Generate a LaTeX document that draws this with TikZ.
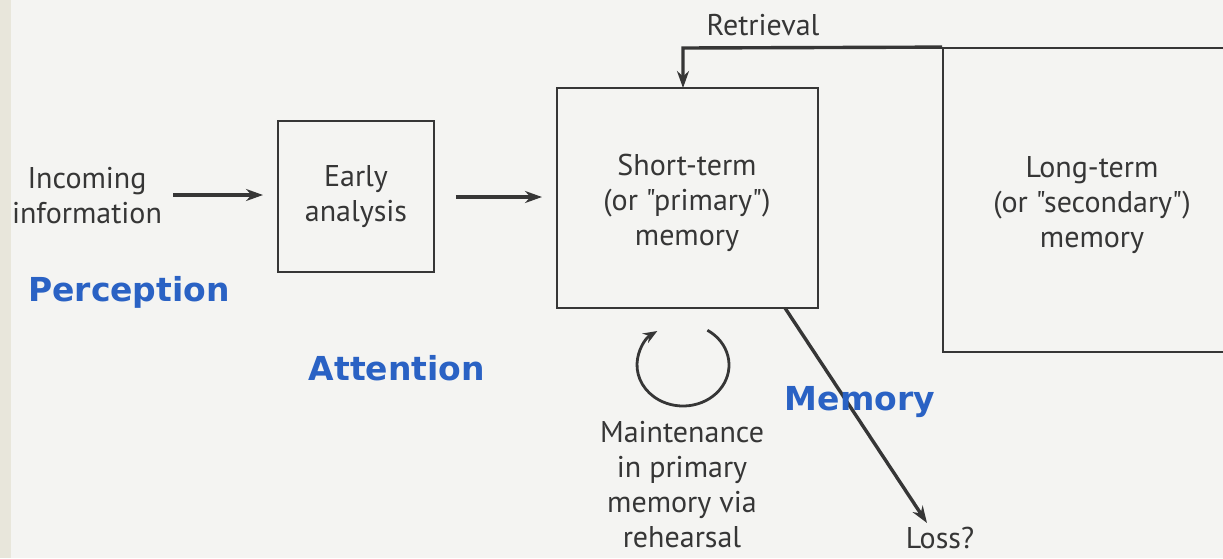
\documentclass[tikz,border=0pt]{standalone}
\usepackage{fontspec}
\setmainfont{PT Sans}[Ligatures=TeXOff]
\newfontfamily\labelfont{DejaVu Sans}
\usetikzlibrary{arrows.meta}
\definecolor{bg}{HTML}{F4F4F2}
\definecolor{strip}{HTML}{E8E6DB}
\definecolor{ink}{HTML}{363636}
\definecolor{tagblue}{HTML}{2A62C4}
\tikzset{
  txt/.style={text=ink, font=\fontsize{30}{35}\selectfont, align=center, inner sep=0pt},
  box/.style={draw=ink, line width=1.8pt, inner sep=0pt},
  arr/.style={draw=ink, line width=3.4pt, -{Stealth[length=17pt,width=12pt]}},
  tag/.style={text=tagblue, font=\labelfont\bfseries\fontsize{33}{35}\selectfont, inner sep=0pt}
}
\begin{document}
\begin{tikzpicture}[x=1pt,y=-1pt]
\useasboundingbox (0,0) rectangle (1223,558);
\fill[bg] (0,0) rectangle (1223,558);
\fill[strip] (0,0) rectangle (11,558);
\clip (0,0) rectangle (1223,558);

\node[txt] (inc) at (87,196) {Incoming\\information};
\node[box, minimum width=156pt, minimum height=151pt] (early) at (356,196.5) {};
\node[txt] at (early.center) {Early\\analysis};
\node[box, minimum width=261pt, minimum height=220pt] (stm) at (687.5,198) {};
\node[txt] at (687,203) {Short-term\\(or "primary")\\memory};
\node[box, minimum width=298pt, minimum height=304pt] (ltm) at (1092,200) {};
\node[txt] at (1092,205) {Long-term\\(or "secondary")\\memory};

\node[txt] (retr) at (763,25) {Retrieval};
\node[txt] (maint) at (682,485) {Maintenance\\in primary\\memory via\\rehearsal};
\node[txt, anchor=base] (loss) at (940,548) {Loss?};

\coordinate (incend) at (263,195);
\draw[arr] (173,195) -- (incend);
\draw[arr] (early.east |- 0,197) ++(21,0) -- (542,197);
\draw[arr] (ltm.north west) -- (683,48) -- (683,88);
\coordinate (losstip) at (927,523);
\draw[arr] (785,308) -- (losstip);
\draw[draw=ink, line width=2.8pt, -{Stealth[length=14pt,width=11pt]}]
  (683,365) ++(-58:46 and 41) arc[start angle=-58, end angle=236, x radius=46, y radius=41];

\node[tag] (perc) at (129,292) {Perception};
\node[tag] (att) at (397,368) {Attention};
\node[tag] (mem) at (860,402) {Memory};
\end{tikzpicture}
\end{document}
